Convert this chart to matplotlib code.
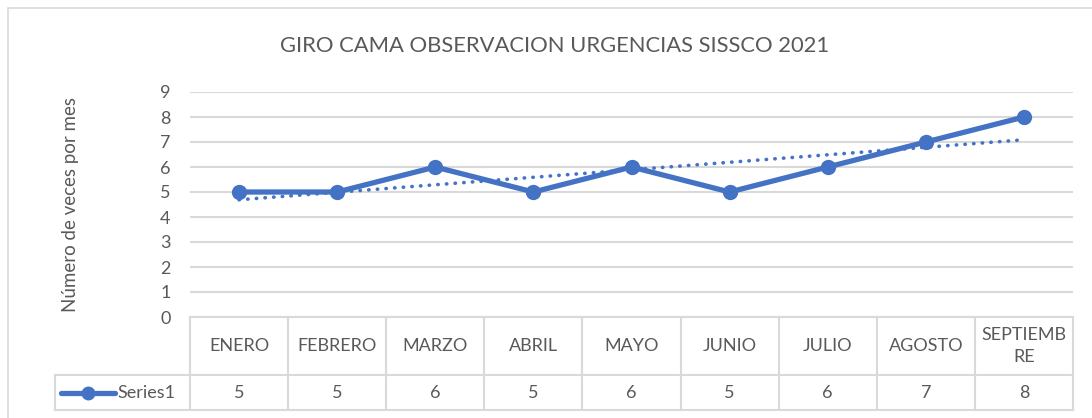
import numpy as np
import matplotlib.pyplot as plt
from matplotlib.lines import Line2D
from matplotlib.patches import Rectangle

months = ["ENERO", "FEBRERO", "MARZO", "ABRIL", "MAYO", "JUNIO", "JULIO", "AGOSTO", "SEPTIEMB\nRE"]
values = [5, 5, 6, 5, 6, 5, 6, 7, 8]
series_name = "Series1"
title = "GIRO CAMA OBSERVACION URGENCIAS SISSCO 2021"
ylabel = "Número de veces por mes"

W, H = 1092, 418
BLUE = "#4472C4"
TXT = "#595959"
GRID = "#D9D9D9"
FONT = ["Lato", "DejaVu Sans"]
plt.rcParams['font.family'] = FONT

fig = plt.figure(figsize=(W / 100, H / 100), dpi=100)
fig.patch.set_facecolor("white")

# chart border
fig.add_artist(Rectangle((8 / W, -0.1), 1.2, 1 - 8 / H + 0.1, transform=fig.transFigure,
                         fill=False, edgecolor=GRID, lw=1.2))

left, right, top, bottom = 190, 1073, 92, 317
ax = fig.add_axes([left / W, 1 - bottom / H, (right - left) / W, (bottom - top) / H])

n = len(values)
x = np.arange(n)
ax.set_xlim(-0.5, n - 0.5)
ax.set_ylim(0, 9)
ax.set_yticks(range(0, 10))
ax.yaxis.grid(True, color=GRID, lw=1.5)
ax.set_axisbelow(True)
for s in ax.spines.values():
    s.set_visible(False)
ax.tick_params(axis='y', length=0, labelsize=13, labelcolor=TXT, pad=14)
ax.tick_params(axis='x', length=0, labelbottom=False)
ax.set_xticks([])

# trendline (linear fit)
coef = np.polyfit(x, values, 1)
trend = np.polyval(coef, x)
ax.plot(x, trend, color=BLUE, lw=2.6, ls=(0, (0.1, 2.3)), dash_capstyle='round')

ax.plot(x, values, color=BLUE, lw=3.8, marker='o', markersize=10, solid_capstyle='round')

ax.set_ylabel(ylabel, fontsize=13.5, color=TXT, labelpad=58)

fig.text(555 / W, 1 - 46 / H, title, ha='center', va='center', fontsize=15.8, color=TXT)

# data table
def fx(px):
    return px / W

def fy(py):
    return 1 - py / H

row1_top, row1_bot, row2_bot = 317, 375, 410
legend_left = 55
col_w = (right - left) / n
lk = dict(color=GRID, lw=1.5, transform=fig.transFigure)
fig.add_artist(Line2D([fx(left), fx(right)], [fy(row1_top)] * 2, **lk))
fig.add_artist(Line2D([fx(legend_left), fx(right)], [fy(row1_bot)] * 2, **lk))
fig.add_artist(Line2D([fx(legend_left), fx(right)], [fy(row2_bot)] * 2, **lk))
fig.add_artist(Line2D([fx(legend_left)] * 2, [fy(row1_bot), fy(row2_bot)], **lk))
for i in range(n + 1):
    px = left + i * col_w
    fig.add_artist(Line2D([fx(px)] * 2, [fy(row1_top), fy(row2_bot)], **lk))

for i, (m, v) in enumerate(zip(months, values)):
    cx = left + (i + 0.5) * col_w
    fig.text(fx(cx), fy((row1_top + row1_bot) / 2), m, ha='center', va='center',
             fontsize=13, color=TXT, linespacing=1.45)
    fig.text(fx(cx), fy((row1_bot + row2_bot) / 2), str(v), ha='center', va='center',
             fontsize=13, color=TXT)

# legend key
ky = fy((row1_bot + row2_bot) / 2)
fig.add_artist(Line2D([fx(61), fx(115)], [ky, ky], color=BLUE, lw=3.8,
                      transform=fig.transFigure, solid_capstyle='round'))
fig.add_artist(Line2D([fx(88)], [ky], color=BLUE, marker='o', markersize=9,
                      transform=fig.transFigure))
fig.text(fx(117), ky, series_name, ha='left', va='center', fontsize=13, color=TXT)

fig.savefig("out.png", dpi=100, facecolor="white")
